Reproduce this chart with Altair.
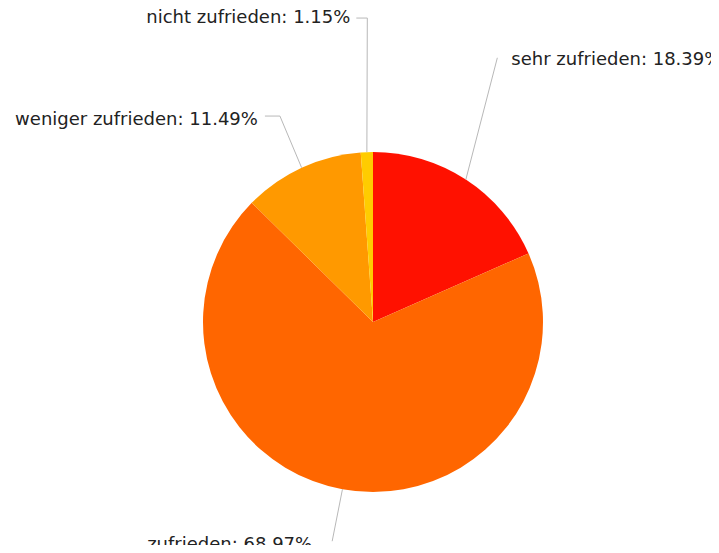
import altair as alt
import pandas as pd

# data
categories = ["sehr zufrieden", "zufrieden", "weniger zufrieden", "nicht zufrieden"]
values = [18.39, 68.97, 11.49, 1.15]
colors = ["#FF1100", "#FF6600", "#FF9900", "#FFCC00"]

# label layout (per slice): elbow radius, angular shift (deg), horizontal stub, text gap, text dy
label_radius = [292, 223, 226, 304]
label_shift = [-7.9, 0.2, 0.5, 1.0]
stub_len = [0, 0, 15, 11]
text_gap = [14, 20, 7, 6]
text_dy = [2, 4, 4, 0]

CX, CY, R = 365, 314, 170

df = pd.DataFrame({
    "cat": categories,
    "value": values,
    "order": list(range(len(categories))),
    "lr": label_radius,
    "ls": label_shift,
    "stub": stub_len,
    "gap": text_gap,
    "tdy": text_dy,
})
df["label"] = [f"{c}: {v:.2f}%" for c, v in zip(categories, values)]

base = alt.Chart(df)

color = alt.Color("cat:N", scale=alt.Scale(domain=categories, range=colors), legend=None)

pie = base.mark_arc(outerRadius=R, stroke=None).encode(
    theta=alt.Theta("value:Q", stack=True),
    order=alt.Order("order:Q"),
    color=color,
    x=alt.value(CX),
    y=alt.value(CY),
)

geo = base.transform_window(
    cum="sum(value)", sort=[{"field": "order"}], frame=[None, 0]
).transform_calculate(
    mid="(datum.cum - datum.value/2) / 100 * 2 * PI",
).transform_calculate(
    la="datum.mid + datum.ls * PI / 180",
    ex=f"{CX} + {R} * sin(datum.mid)",
    ey=f"{CY} - {R} * cos(datum.mid)",
).transform_calculate(
    lx=f"{CX} + datum.lr * sin(datum.la)",
    ly=f"{CY} - datum.lr * cos(datum.la)",
    sgn="sin(datum.la) >= 0 ? 1 : -1",
).transform_calculate(
    hx="datum.lx + datum.sgn * datum.stub",
).transform_calculate(
    tx="datum.hx + datum.sgn * datum.gap",
    ty="datum.ly + datum.tdy",
)

line_color = "#b8b8b8"
radial = geo.mark_rule(color=line_color, strokeWidth=1).encode(
    x=alt.X("ex:Q", scale=None, axis=None),
    y=alt.Y("ey:Q", scale=None, axis=None),
    x2="lx:Q",
    y2="ly:Q",
)
stub = geo.mark_rule(color=line_color, strokeWidth=1).encode(
    x=alt.X("lx:Q", scale=None, axis=None),
    y=alt.Y("ly:Q", scale=None, axis=None),
    x2="hx:Q",
    y2="ly:Q",
)

font = "DejaVu Sans"
fs = 18
txt_right = geo.transform_filter("datum.sgn > 0").mark_text(
    align="left", baseline="middle", font=font, fontSize=fs, color="#222222"
).encode(
    x=alt.X("tx:Q", scale=None, axis=None),
    y=alt.Y("ty:Q", scale=None, axis=None),
    text="label:N",
)
txt_left = geo.transform_filter("datum.sgn < 0").mark_text(
    align="right", baseline="middle", font=font, fontSize=fs, color="#222222"
).encode(
    x=alt.X("tx:Q", scale=None, axis=None),
    y=alt.Y("ty:Q", scale=None, axis=None),
    text="label:N",
)

chart = alt.layer(pie, radial, stub, txt_right, txt_left).properties(
    width=703, height=537, padding=0, autosize="none"
).configure_view(stroke=None)

chart.save("out.html", embed_options={"renderer": "svg", "actions": False})
